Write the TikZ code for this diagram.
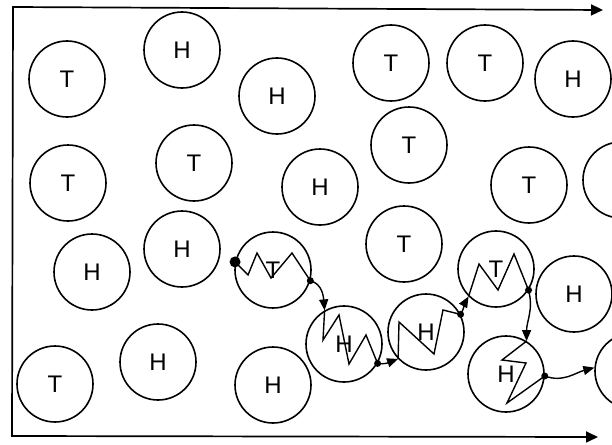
\documentclass[tikz,border=0pt]{standalone}
\usepackage{fontspec}
\newfontfamily\labelfont{Liberation Sans}
\usetikzlibrary{arrows.meta,calc}

\begin{document}
\begin{tikzpicture}[
  x=1pt, y=1pt,
  mol/.style={circle, draw, line width=1.6pt, minimum size=76pt, inner sep=0pt,
              font=\labelfont\fontsize{24}{28}\selectfont},
  axis/.style={{Triangle[length=12pt,width=11pt]}-{Triangle[length=12pt,width=11pt]}, line width=1.7pt},
  arrow/.style={-{Triangle[length=11pt,width=9pt]}, line width=1.4pt},
  zig/.style={line width=1.4pt, line join=miter}
]
  \useasboundingbox (0,0) rectangle (612,-444);
  \clip (0,0) rectangle (612,-444);

  \coordinate (topend) at (603,-10);
  \coordinate (corner) at (13,-7);
  \coordinate (base) at (12,-436);
  \coordinate (botend) at (598,-437);
  \draw[axis] (topend) -- (corner) -- (base) -- (botend);

  \node[mol] (t1) at (67,-79) {T};
  \node[mol] (h1) at (182,-50) {H};
  \node[mol] (h2) at (277,-96) {H};
  \node[mol] (t2) at (391,-63) {T};
  \node[mol] (t3) at (485,-63) {T};
  \node[mol] (h3) at (573,-79) {H};
  \node[mol] (t4) at (68,-183) {T};
  \node[mol] (t5) at (194,-163) {T};
  \node[mol] (h4) at (320,-187) {H};
  \node[mol] (t6) at (409,-145) {T};
  \node[mol] (t7) at (529,-185) {T};
  \node[mol] (c1) at (621,-180) {};
  \node[mol] (h5) at (92,-272) {H};
  \node[mol] (h6) at (182,-249) {H};
  \node[mol] (z1) at (273,-270) {T};
  \node[mol] (t8) at (404,-244) {T};
  \node[mol] (z4) at (496,-269) {T};
  \node[mol] (h7) at (574,-294) {H};
  \node[mol] (t9) at (55,-384) {T};
  \node[mol] (h8) at (158,-362) {H};
  \node[mol] (h9) at (273,-385) {H};
  \node[mol] (z2) at (344,-344) {H};
  \node[mol] (z3) at (426,-332) {H};
  \node[mol] (z5) at (506,-374) {H};
  \node[mol] (c2) at (633,-371) {};

  \draw[zig] (z1.168) -- ($(z1)+(-25,-5)$) -- ($(z1)+(-16,17)$) -- ($(z1)+(-2,-8)$)
    -- ($(z1)+(19,17)$) -- (z1.-16);
  \draw[zig] (z2.120) -- ($(z2)+(-21,4)$) -- ($(z2)+(-5,29)$) -- ($(z2)+(5,-20)$)
    -- ($(z2)+(22,9)$) -- (z2.-30);
  \draw[zig] (z3.-136) -- ($(z3)+(-27,10)$) -- ($(z3)+(8,-22)$) -- ($(z3)+(17,22)$)
    -- (z3.27);
  \draw[zig] (z4.-135) -- ($(z4)+(-17,5)$) -- ($(z4)+(2,-21)$) -- ($(z4)+(18,15)$)
    -- (z4.-33);
  \draw[zig] (z5.58) -- ($(z5)+(-4,14)$) -- ($(z5)+(20,11)$) -- ($(z5)+(1,-29)$)
    -- (z5.-3);

  \draw[arrow] (z1.-16) to[out=-15,in=95] (z2.120);
  \draw[arrow] (z2.-30) to[out=-10,in=200] (z3.-136);
  \draw[arrow] (z3.27) to[out=60,in=-120] (z4.-135);
  \draw[arrow] (z4.-33) to[out=-75,in=90] (z5.58);
  \draw[arrow] (z5.-3) to[out=-20,in=195] (c2.175);

  \fill (z1.168) circle (5.5);
  \fill (z1.-16) circle (3.5);
  \fill (z2.-30) circle (3.5);
  \fill (z3.27) circle (3.5);
  \fill (z4.-33) circle (3.5);
  \fill (z5.-3) circle (3.5);
\end{tikzpicture}
\end{document}
